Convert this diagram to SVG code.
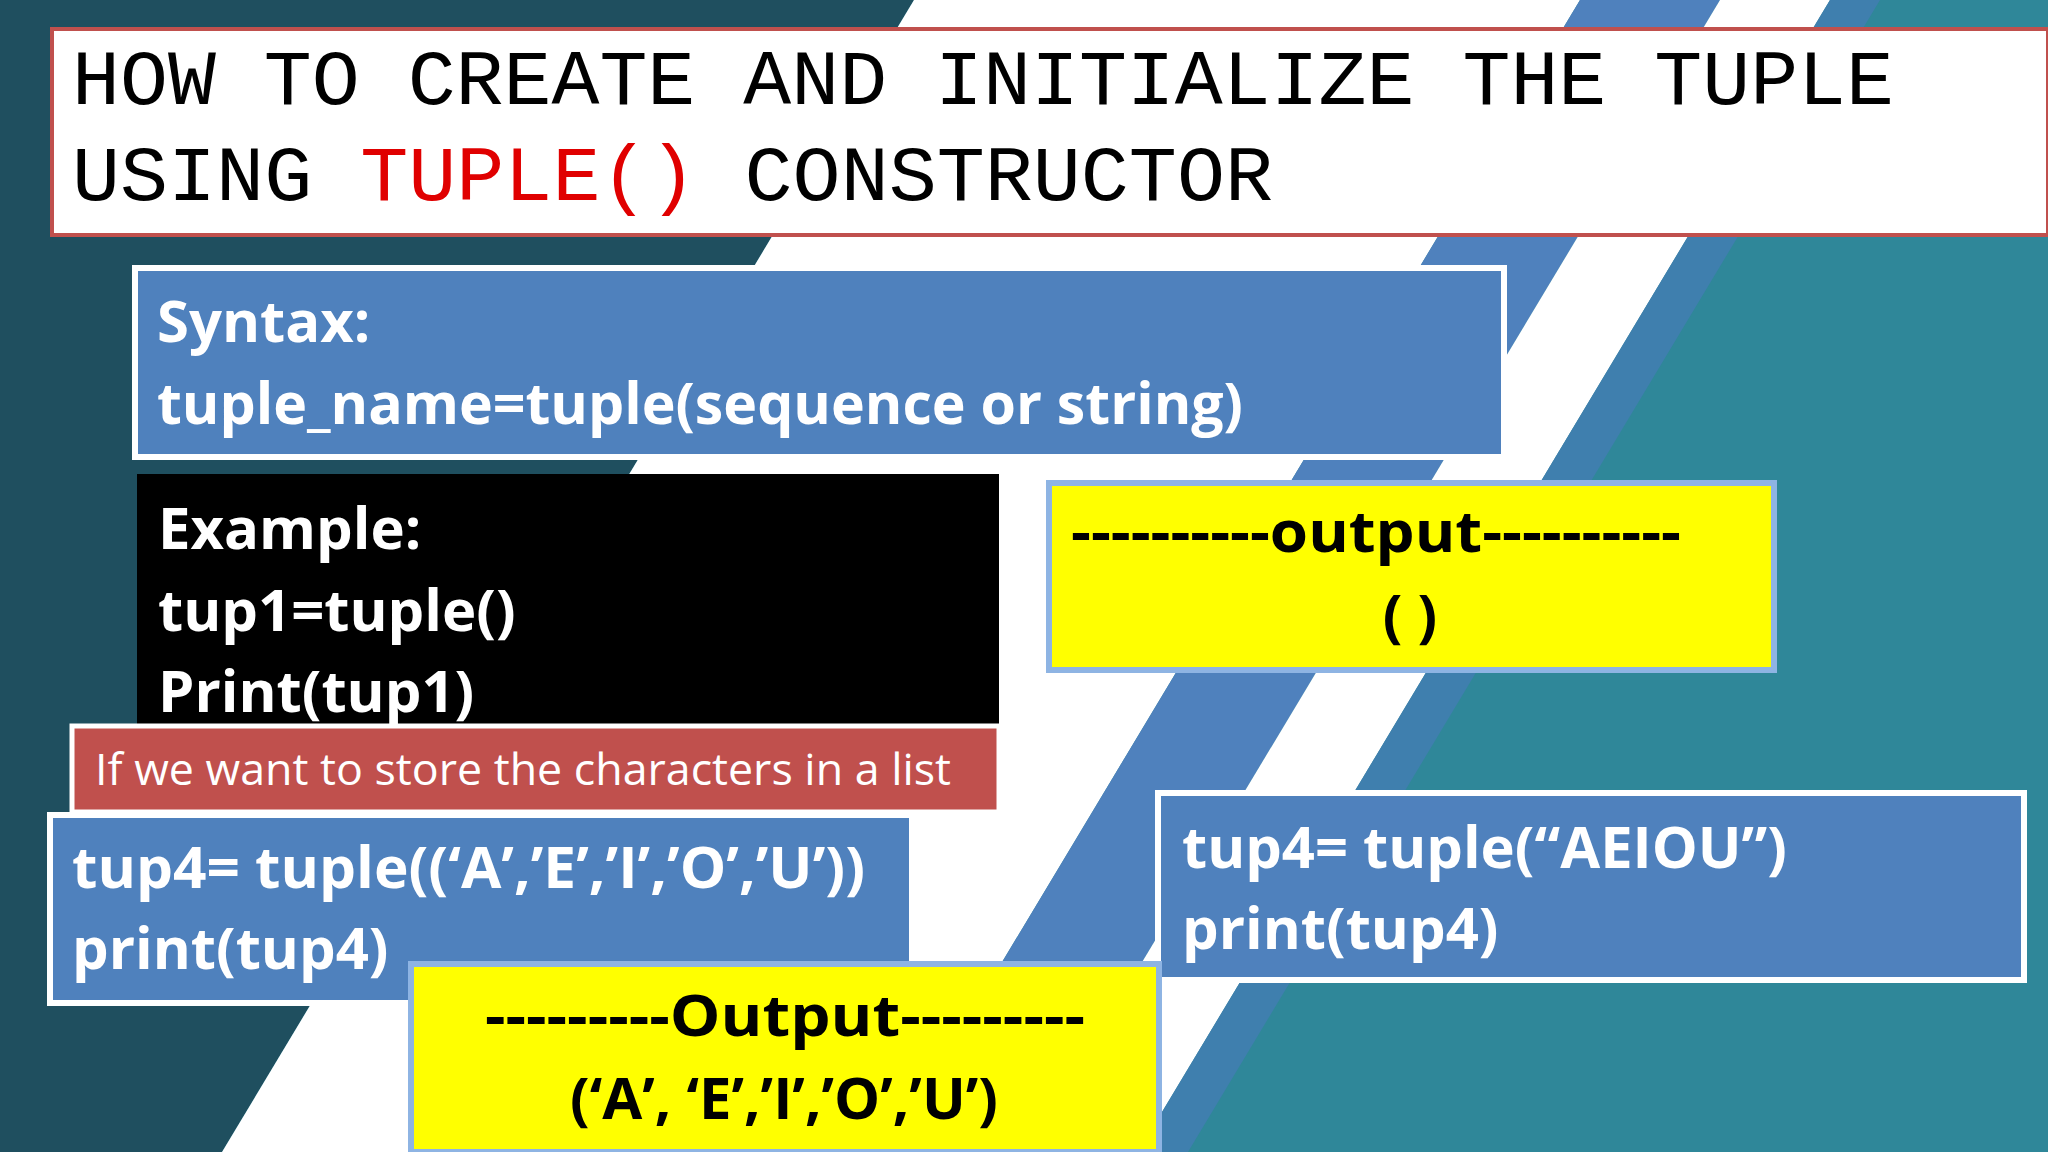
<svg xmlns="http://www.w3.org/2000/svg" width="2048" height="1152" viewBox="0 0 2048 1152">
<style>
.bx{fill:#4f81bd;stroke:#fff;stroke-width:6}
.yl{fill:#ffff00;stroke:#8eb4e3;stroke-width:6}
.t{font-family:"Open Sans","Noto Sans",sans-serif;font-weight:bold;font-size:58px;fill:#fff}
.k{font-family:"Open Sans","Noto Sans",sans-serif;font-weight:bold;font-size:58px;fill:#000}
.m{font-family:"Liberation Mono",monospace;font-size:78px;fill:#000}
</style>
<rect width="2048" height="1152" fill="#2f8799"/>
<polygon points="0,0 914,0 222,1152 0,1152" fill="#1f4f5f"/>
<polygon points="914,0 1580,0 888,1152 222,1152" fill="#ffffff"/>
<polygon points="1580,0 1720,0 1028,1152 888,1152" fill="#4f81bd"/>
<polygon points="1720,0 1830,0 1138,1152 1028,1152" fill="#ffffff"/>
<polygon points="1830,0 1880,0 1188,1152 1138,1152" fill="#3f7fae"/>
<g id="title">
<rect x="52" y="29" width="1996" height="206" fill="#fff" stroke="#c0504d" stroke-width="4"/>
<text class="m" x="72" y="104" textLength="1822" lengthAdjust="spacingAndGlyphs">HOW TO CREATE AND INITIALIZE THE TUPLE</text>
<text class="m" x="72" y="200" textLength="1201" lengthAdjust="spacingAndGlyphs">USING <tspan fill="#e00000">TUPLE()</tspan> CONSTRUCTOR</text>
</g>
<g id="syntax">
<rect class="bx" x="135" y="268" width="1369" height="189"/>
<text class="t" x="157" y="342">Syntax:</text>
<text class="t" x="157" y="424" textLength="1086" lengthAdjust="spacingAndGlyphs">tuple_name=tuple(sequence or string)</text>
</g>
<g id="example">
<rect x="137" y="474" width="862" height="255" fill="#000"/>
<text class="t" x="158" y="549">Example:</text>
<text class="t" x="158" y="631">tup1=tuple()</text>
<text class="t" x="158" y="712">Print(tup1)</text>
</g>
<g id="output1">
<rect class="yl" x="1049" y="483" width="725" height="187"/>
<text class="k" x="1071" y="552" textLength="610" lengthAdjust="spacingAndGlyphs">----------output----------</text>
<text class="k" x="1410" y="636" text-anchor="middle">( )</text>
</g>
<g id="note">
<rect x="72" y="726" width="927" height="86" fill="#c0504d" stroke="#fff" stroke-width="5"/>
<text x="95" y="785" font-family="Open Sans,Noto Sans,sans-serif" font-size="44" fill="#fff" textLength="856" lengthAdjust="spacingAndGlyphs">If we want to store the characters in a list</text>
</g>
<g id="tup4left">
<rect class="bx" x="50" y="815" width="862" height="188"/>
<text class="t" x="72" y="888" textLength="793" lengthAdjust="spacingAndGlyphs">tup4= tuple((‘A’,’E’,’I’,’O’,’U’))</text>
<text class="t" x="72" y="969">print(tup4)</text>
</g>
<g id="tup4right">
<rect class="bx" x="1158" y="793" width="866" height="187"/>
<text class="t" x="1182" y="868" textLength="605" lengthAdjust="spacingAndGlyphs">tup4= tuple(“AEIOU”)</text>
<text class="t" x="1182" y="949">print(tup4)</text>
</g>
<g id="output2">
<rect class="yl" x="411" y="964" width="748" height="188"/>
<text class="k" x="485" y="1036" textLength="600" lengthAdjust="spacingAndGlyphs">---------Output---------</text>
<text class="k" x="784" y="1119" text-anchor="middle">(‘A’, ‘E’,’I’,’O’,’U’)</text>
</g>
<g id="connectors"/>
</svg>
